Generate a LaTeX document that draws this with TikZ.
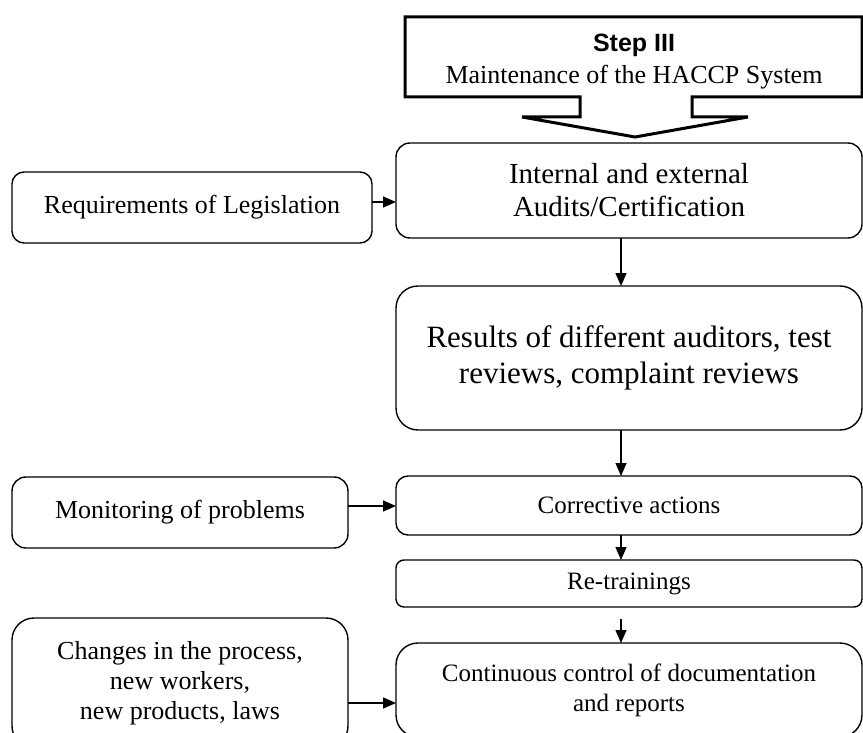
\documentclass[tikz,border=0pt]{standalone}
\usepackage{fontspec}
\setmainfont{Liberation Serif}
\setsansfont{Liberation Sans}
\usetikzlibrary{arrows.meta}

\begin{document}
\begin{tikzpicture}[x=1pt, y=-1pt,
    box/.style={draw, rounded corners=#1, line width=1.4pt, align=center,
      inner sep=0pt, outer sep=0pt, anchor=north west},
    box/.default=12pt,
    arr/.style={-{Triangle[length=13pt,width=11pt]}, line width=1.4pt}]
    \useasboundingbox (0,0) rectangle (863,733);

    % step banner
    \draw[line width=3pt] (405,17) -- (862,17) -- (862,97) -- (692,97) -- (692,117)
      -- (748,117) -- (635,137) -- (522,117) -- (580,117) -- (580,97) -- (405,97) -- cycle;
    \node[align=center, font=\fontsize{26}{32}\selectfont] (step) at (634,62)
      {{\sffamily\bfseries\fontsize{25}{32}\selectfont Step III}\\Maintenance of the HACCP System};

    % right column
    \node[box=14pt, minimum width=466pt, minimum height=95pt,
      font=\fontsize{29}{33}\selectfont] (audit) at (396,143)
      {Internal and external\\Audits/Certification};
    \node[box=22pt, minimum width=466pt, minimum height=144pt,
      font=\fontsize{31}{36}\selectfont] (results) at (396,286)
      {Results of different auditors, test\\reviews, complaint reviews};
    \node[box=12pt, minimum width=466pt, minimum height=59pt,
      font=\fontsize{25}{30}\selectfont] (correct) at (396,476) {Corrective actions};
    \node[box=8pt, minimum width=466pt, minimum height=47pt,
      font=\fontsize{25}{30}\selectfont] (retrain) at (396,560) {Re-trainings};
    \node[box=22pt, minimum width=466pt, minimum height=94pt,
      font=\fontsize{25}{30}\selectfont] (contin) at (396,643)
      {Continuous control of documentation\\and reports};

    % left column
    \node[box=12pt, minimum width=360pt, minimum height=71pt,
      font=\fontsize{26}{30}\selectfont] (legis) at (12,172) {Requirements of Legislation};
    \node[box=14pt, minimum width=336pt, minimum height=71pt,
      font=\fontsize{26}{30}\selectfont] (monitor) at (12,477) {Monitoring of problems};
    \node[box=22pt, minimum width=336pt, minimum height=130pt,
      font=\fontsize{26}{30}\selectfont] (changes) at (12,618)
      {Changes in the process,\\new workers,\\new products, laws};

    % arrows
    \coordinate (spine) at (621,0);
    \draw[arr] (audit.south -| spine) -- (results.north -| spine);
    \draw[arr] (results.south -| spine) -- (correct.north -| spine);
    \draw[arr] (correct.south -| spine) -- (retrain.north -| spine);
    \draw[arr] (retrain.south -| spine) ++(0,12) -- (contin.north -| spine);
    \draw[arr] (legis.east |- 0,202) -- (audit.west |- 0,202);
    \draw[arr] (monitor.east |- 0,506) -- (correct.west |- 0,506);
    \draw[arr] (changes.east |- 0,703) -- (contin.west |- 0,703);
\end{tikzpicture}
\end{document}
